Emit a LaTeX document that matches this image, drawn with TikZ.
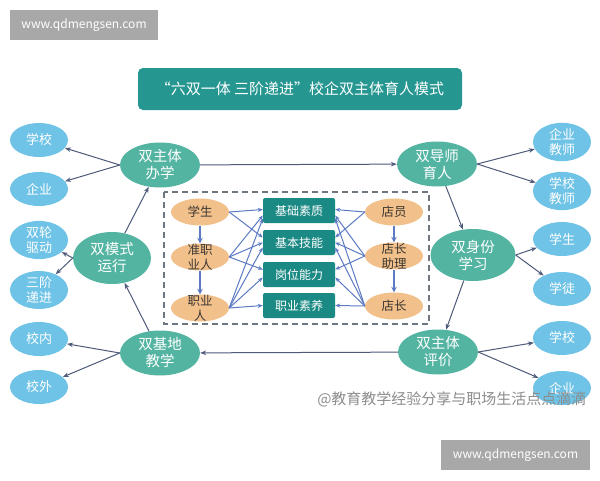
\documentclass[tikz,border=0pt]{standalone}
\usepackage{fontspec}
\setmainfont{Noto Sans CJK SC}
\usetikzlibrary{shapes.geometric, arrows.meta}
\definecolor{sideblue}{RGB}{110,195,230}
\definecolor{pairteal}{RGB}{84,180,162}
\definecolor{titleteal}{RGB}{38,150,145}
\definecolor{skillteal}{RGB}{28,138,132}
\definecolor{roleorange}{RGB}{242,192,138}
\definecolor{roletext}{RGB}{60,55,50}
\definecolor{linkgray}{RGB}{78,90,122}
\definecolor{crossblue}{RGB}{92,122,196}
\definecolor{dashgray}{RGB}{110,118,128}
\definecolor{sitegray}{RGB}{168,168,168}
\definecolor{notegray}{RGB}{140,140,140}
\tikzset{
  sideoval/.style={ellipse, fill=sideblue, text=white, minimum width=58pt, minimum height=34pt, inner sep=0pt, font=\fontsize{13}{15}\selectfont, align=center},
  pairoval/.style={ellipse, fill=pairteal, text=white, minimum width=80pt, minimum height=45pt, inner sep=0pt, font=\fontsize{14.5}{17}\selectfont, align=center},
  roleoval/.style={ellipse, fill=roleorange, text=roletext, minimum width=58pt, minimum height=27pt, inner xsep=0pt, inner ysep=-5pt, font=\fontsize{12.5}{15}\selectfont, align=center},
  skillbox/.style={rectangle, rounded corners=2pt, fill=skillteal, text=white, minimum width=72pt, minimum height=25pt, inner sep=0pt, font=\fontsize{12}{14}\selectfont},
  titlebox/.style={rectangle, rounded corners=5pt, fill=titleteal, text=white, minimum width=324pt, minimum height=42pt, font=\fontsize{15}{17}\selectfont},
  sitebox/.style={rectangle, fill=sitegray, text=white, minimum height=30pt, font=\fontsize{12}{14}\selectfont},
  link/.style={draw=linkgray, line width=1pt, -{Stealth[length=6pt,width=4.5pt]}},
  cross/.style={draw=crossblue, line width=1pt, -{Stealth[length=5pt,width=4pt]}},
  step down/.style={draw=crossblue, line width=1.2pt, -{Stealth[length=5.5pt,width=5.5pt]}},
}
\begin{document}
\begin{tikzpicture}[x=1pt, y=-1pt]
\useasboundingbox (0,0) rectangle (600,480);
\fill[white] (0,0) rectangle (600,480);
% watermarks
\node[sitebox, minimum width=148pt] (sitetop) at (84,25) {www.qdmengsen.com};
\node[sitebox, minimum width=149pt] (sitebottom) at (515.5,455) {www.qdmengsen.com};
% title
\node[titlebox] (title) at (300,89) {“六双一体 三阶递进”校企双主体育人模式};
% left column
\node[sideoval] (school) at (39,140) {学校};
\node[sideoval] (firm) at (39,189) {企业};
\node[sideoval] (wheel) at (39,240) {双轮\\驱动};
\node[sideoval] (tier) at (39,290) {三阶\\递进};
\node[sideoval] (oncampus) at (39,339) {校内};
\node[sideoval] (offcampus) at (39,387) {校外};
% right column
\node[sideoval] (firmtutor) at (562,142) {企业\\教师};
\node[sideoval] (schooltutor) at (562,191) {学校\\教师};
\node[sideoval] (pupil) at (562,239) {学生};
\node[sideoval] (apprentice) at (562,289) {学徒};
\node[sideoval] (evschool) at (562,338) {学校};
\node[sideoval] (evfirm) at (562,388) {企业};
% six pairs
\node[pairoval] (run) at (160,165) {双主体\\办学};
\node[pairoval, minimum width=78pt, minimum height=52pt] (modes) at (112,258) {双模式\\运行};
\node[pairoval] (base) at (160,353) {双基地\\教学};
\node[pairoval] (tutor) at (437,164) {双导师\\育人};
\node[pairoval, minimum width=85pt, minimum height=52pt] (identity) at (473,255) {双身份\\学习};
\node[pairoval] (assess) at (438,352) {双主体\\评价};
% middle frame
\draw[dashgray, line width=1.2pt, dash pattern=on 6pt off 4pt] (164,192) rectangle (429,324);
\node[roleoval] (s1) at (200,212) {学生};
\node[roleoval] (s2) at (200,257) {准职\\业人};
\node[roleoval] (s3) at (200,308) {职业\\人};
\node[roleoval] (t1) at (394,212) {店员};
\node[roleoval] (t2) at (394,256) {店长\\助理};
\node[roleoval] (t3) at (394,306) {店长};
\node[skillbox] (r1) at (299,210.5) {基础素质};
\node[skillbox] (r2) at (299,242.5) {基本技能};
\node[skillbox] (r3) at (299,274.5) {岗位能力};
\node[skillbox] (r4) at (299,305.5) {职业素养};
% outer links
\draw[link] (run.west) -- (school);
\draw[link] (run.west) -- (firm);
\draw[link] (modes.west) -- (wheel);
\draw[link] (modes.west) -- (tier);
\draw[link] (base.west) -- (oncampus);
\draw[link] (base.west) -- (offcampus);
\draw[link] (tutor.east) -- (firmtutor);
\draw[link] (tutor.east) -- (schooltutor);
\draw[link] (identity.east) -- (pupil);
\draw[link] (identity.east) -- (apprentice);
\draw[link] (assess.east) -- (evschool);
\draw[link] (assess.east) -- (evfirm);
% ring
\draw[link] (run) -- (tutor);
\draw[link] (tutor) -- (identity);
\draw[link] (identity) -- (assess);
\draw[link] (assess) -- (base);
\draw[link] (base) -- (modes);
\draw[link] (modes) -- (run);
% stages
\draw[step down] (s1) -- (s2);
\draw[step down] (s2) -- (s3);
\draw[step down] (t1) -- (t2);
\draw[step down] (t2) -- (t3);
% left to skills
\draw[cross] (s1.east) -- ([yshift=1pt]r1.west);
\draw[cross] (s1.east) -- ([yshift=5pt]r2.west);
\draw[cross] (s2.east) -- ([yshift=-5pt]r1.west);
\draw[cross] (s2.east) -- (r2.west);
\draw[cross] (s2.east) -- ([yshift=5pt]r3.west);
\draw[cross] (s3.east) -- ([yshift=-8pt]r1.west);
\draw[cross] (s3.east) -- ([yshift=-5pt]r2.west);
\draw[cross] (s3.east) -- ([yshift=-3pt]r3.west);
\draw[cross] (s3.east) -- (r4.west);
% right to skills
\draw[cross] (t1.west) -- ([yshift=1pt]r1.east);
\draw[cross] (t1.west) -- ([yshift=5pt]r2.east);
\draw[cross] (t2.west) -- ([yshift=-5pt]r1.east);
\draw[cross] (t2.west) -- (r2.east);
\draw[cross] (t2.west) -- ([yshift=5pt]r3.east);
\draw[cross] (t3.west) -- ([yshift=-8pt]r1.east);
\draw[cross] (t3.west) -- ([yshift=-5pt]r2.east);
\draw[cross] (t3.west) -- ([yshift=-3pt]r3.east);
\draw[cross] (t3.west) -- (r4.east);
% overlay note
\node[text=notegray, font=\fontsize{15}{17}\selectfont, anchor=east] (note) at (590,399) {@教育教学经验分享与职场生活点点滴滴};
\end{tikzpicture}
\end{document}
